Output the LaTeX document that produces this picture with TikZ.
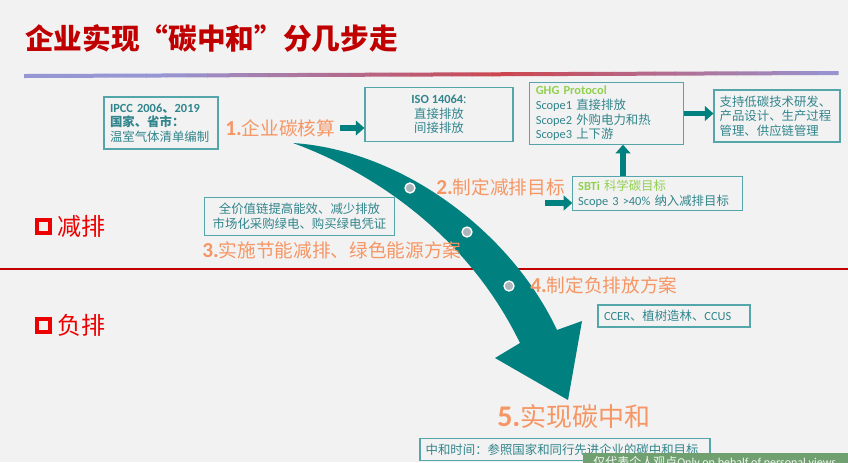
\documentclass[tikz,border=0pt]{standalone}
\usepackage{fontspec}
\setmainfont{Noto Sans CJK SC}
\newfontfamily\lat{Carlito}
\usepackage{tikz}
\usetikzlibrary{positioning, arrows.meta}
\usepackage{xcolor}
\definecolor{pagebg}{RGB}{242, 242, 242}
\definecolor{titlered}{RGB}{192, 0, 0}
\definecolor{markred}{RGB}{236, 0, 0}
\definecolor{tealtext}{RGB}{49, 133, 140}
\definecolor{tealline}{RGB}{84, 166, 170}
\definecolor{tealfill}{RGB}{0, 128, 126}
\definecolor{steporange}{RGB}{246, 150, 100}
\definecolor{ghggreen}{RGB}{146, 208, 80}
\definecolor{dotgray}{RGB}{172, 182, 188}
\definecolor{notegreen}{RGB}{112, 160, 112}
\definecolor{barblue}{RGB}{150, 150, 212}
\definecolor{barred}{RGB}{204, 70, 80}
\newcommand{\stepnum}[2][16]{{\lat\bfseries\fontsize{#1}{#1}\selectfont #2}}

\begin{document}
\begin{tikzpicture}[x=0.75pt, y=-0.75pt, >={Triangle[length=6.5pt, width=11pt]},
  infobox/.style={draw=tealline, line width=0.8pt, text=tealtext, inner sep=0pt, font=\fontsize{9.3}{11}\selectfont},
  stepline/.style={text=steporange, font=\fontsize{14}{16}\selectfont, anchor=west, inner sep=0pt},
  blockarrow/.style={->, line width=3.8pt, tealfill},
  markbox/.style={draw=markred, line width=3pt, minimum size=9.5pt, inner sep=0pt},
  sidemark/.style={text=markred, font=\fontsize{18}{20}\selectfont, inner sep=0pt},
  dot/.style={circle, fill=dotgray, draw=white, line width=1pt, minimum size=7.5pt, inner sep=0pt}]
  \useasboundingbox (0,0) rectangle (848,462);
  \fill[pagebg] (0,0) rectangle (848,462);

  % title and bars
  \node[anchor=west, text=titlered, font=\fontsize{21.5}{24}\selectfont\bfseries, inner sep=0pt] (title) at (25,38) {企业实现“碳中和”分几步走};
  \foreach \i in {0,...,39} {
    \pgfmathsetmacro\barmix{max(0,100-6*abs(\i-23))}
    \fill[barred!\barmix!barblue] (24+\i*20.35,74-\i*0.075) -- (45+\i*20.35,74-\i*0.075-0.08)
      -- (45+\i*20.35,78-\i*0.075-0.08) -- (24+\i*20.35,78-\i*0.075) -- cycle;
  }
  \draw[titlered, line width=0.8pt] (0,269) -- (848,269);

  % side marks
  \node[markbox] (m1) at (43.5,226.5) {};
  \node[sidemark, right=4pt of m1] (cut) {减排};
  \node[markbox] (m2) at (43.5,325.5) {};
  \node[sidemark, right=4pt of m2] (neg) {负排};

  % the big arrow
  \fill[tealfill] (293,143) .. controls (400,150) and (510,230) .. (557,330) -- (582,321) -- (568,400)
    -- (495,358) -- (520,343) .. controls (470,240) and (380,175) .. cycle;
  \node[dot] (d1) at (410,188) {};
  \node[dot] (d2) at (467,232) {};
  \node[dot] (d3) at (509,286) {};

  % boxes
  \node[infobox, text width=76.5pt, inner xsep=4.5pt, minimum height=39pt, align=left] (ipcc) at (161,123)
    {{\lat\bfseries IPCC 2006}\textbf{、}{\lat\bfseries 2019}\\\textbf{国家、省市：}\\温室气体清单编制};
  \node[infobox, minimum width=111pt, minimum height=40pt, align=center] (iso) at (439,114.5)
    {{\lat\bfseries ISO 14064}:\\直接排放\\间接排放};
  \node[infobox, text width=106pt, inner xsep=4.5pt, minimum height=46pt, align=left] (ghg) at (606.5,113.5)
    {{\lat\bfseries\color{ghggreen}GHG Protocol}\\{\lat Scope1} 直接排放\\{\lat Scope2} 外购电力和热\\{\lat Scope3} 上下游};
  \node[infobox, text width=86pt, inner xsep=4.25pt, minimum height=39pt, align=left] (support) at (777,116)
    {支持低碳技术研发、\\产品设计、生产过程\\管理、供应链管理};
  \node[infobox, text width=119pt, inner xsep=4pt, minimum height=25pt, align=left] (sbti) at (657.5,193.5)
    {{\lat\bfseries\color{ghggreen}SBTi} {\color{ghggreen}科学碳目标}\\{\lat Scope 3 >40\%} 纳入减排目标};
  \node[infobox, minimum width=142pt, minimum height=28pt, align=center] (eff) at (299.5,216.5)
    {全价值链提高能效、减少排放\\市场化采购绿电、购买绿电凭证};
  \node[infobox, text width=105pt, inner xsep=4.5pt, minimum height=16.5pt, align=left] (ccer) at (674,316)
    {{\lat CCER}、植树造林、{\lat CCUS}};
  \node[infobox, text width=209pt, inner xsep=4.25pt, minimum height=16pt, align=left] (when) at (565,449.5)
    {中和时间：参照国家和同行先进企业的碳中和目标};

  % steps
  \node[stepline] (s1) at (225,128) {\stepnum{1.}企业碳核算};
  \node[stepline] (s2) at (436,187) {\stepnum{2.}制定减排目标};
  \node[stepline] (s3) at (202,250) {\stepnum{3.}实施节能减排、绿色能源方案};
  \node[stepline] (s4) at (530,285) {\stepnum{4.}制定负排放方案};
  \node[stepline, font=\fontsize{19.5}{22}\selectfont] (s5) at (497,417) {\stepnum[22.5]{5.}实现碳中和};

  % connectors
  \coordinate (upx) at (623,0);
  \coordinate (s2tail) at (545,203);
  \draw[blockarrow] ([xshift=3.75pt]s1.east) -- (s1.east -| iso.west);
  \draw[blockarrow] (ghg.east) -- (ghg.east -| support.west);
  \draw[blockarrow] (sbti.north -| upx) -- (ghg.south -| upx);
  \draw[blockarrow] (s2tail) -- (s2tail -| sbti.west);

  % note strip
  \fill[notegreen] (583,453) rectangle (848,470);
  \node[anchor=west, text=white!90!notegreen, font=\fontsize{9}{10}\selectfont, inner sep=0pt] (note) at (593,462.5)
    {仅代表个人观点{\lat Only on behalf of personal views}};
\end{tikzpicture}
\end{document}
